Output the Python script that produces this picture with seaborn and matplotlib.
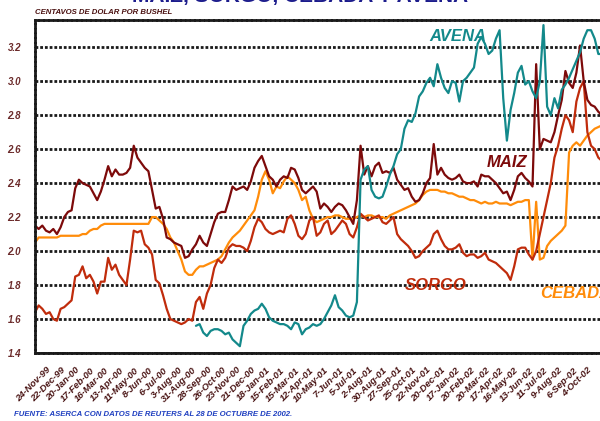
import numpy as np
import pandas as pd
import seaborn as sns
import matplotlib.pyplot as plt

# ==========================================================
# DATA  (one value per week, index 0 = early Nov-99)
# ==========================================================

maiz = [
    2.15, 2.13, 2.15, 2.12, 2.11, 2.13, 2.10, 2.14, 2.20, 2.23,
    2.24, 2.37, 2.42, 2.40, 2.39, 2.38, 2.34, 2.30, 2.35, 2.42,
    2.50, 2.44, 2.48, 2.45, 2.45, 2.46, 2.49, 2.62, 2.55, 2.52,
    2.49, 2.47, 2.36, 2.25, 2.26, 2.19, 2.08, 2.07, 2.05, 2.04,
    2.03, 1.96, 1.97, 2.01, 2.04, 2.09, 2.05, 2.03, 2.10, 2.17,
    2.22, 2.23, 2.23, 2.30, 2.38, 2.36, 2.37, 2.38, 2.36, 2.41,
    2.49, 2.53, 2.56, 2.50, 2.44, 2.42, 2.38, 2.42, 2.44, 2.43,
    2.49, 2.48, 2.43, 2.36, 2.34, 2.36, 2.38, 2.35, 2.25, 2.28,
    2.26, 2.23, 2.26, 2.28, 2.27, 2.24, 2.20, 2.16, 2.30, 2.62,
    2.45, 2.50, 2.44, 2.50, 2.52, 2.46, 2.47, 2.46, 2.49, 2.42,
    2.39, 2.36, 2.37, 2.32, 2.29, 2.30, 2.34, 2.40, 2.43, 2.63,
    2.45, 2.49, 2.45, 2.43, 2.42, 2.43, 2.45, 2.41, 2.40, 2.40,
    2.41, 2.38, 2.45, 2.44, 2.44, 2.42, 2.40, 2.37, 2.34, 2.35,
    2.30, 2.36, 2.44, 2.46, 2.43, 2.41, 2.38, 3.10, 2.60, 2.66,
    2.65, 2.64, 2.70, 2.80, 2.89, 3.06, 2.99, 2.96, 3.05, 3.21,
    3.00, 2.89, 2.86, 2.85, 2.82, 2.80,
]

sorgo = [
    1.64, 1.68, 1.66, 1.63, 1.64, 1.60, 1.59, 1.66, 1.67, 1.69,
    1.71, 1.85, 1.86, 1.91, 1.84, 1.86, 1.82, 1.75, 1.82, 1.82,
    1.96, 1.89, 1.92, 1.86, 1.83, 1.80, 1.95, 2.12, 2.11, 2.12,
    2.04, 2.02, 1.98, 1.83, 1.81, 1.74, 1.66, 1.60, 1.59, 1.58,
    1.57, 1.58, 1.60, 1.59, 1.70, 1.73, 1.66, 1.75, 1.80, 1.90,
    1.95, 1.93, 1.96, 2.02, 2.04, 2.03, 2.03, 2.02, 2.00, 2.06,
    2.14, 2.19, 2.17, 2.13, 2.11, 2.10, 2.11, 2.12, 2.11, 2.19,
    2.21, 2.16, 2.09, 2.07, 2.10, 2.18, 2.20, 2.09, 2.11, 2.16,
    2.18, 2.10, 2.12, 2.15, 2.18, 2.16, 2.10, 2.08, 2.14, 2.22,
    2.20, 2.18, 2.19, 2.20, 2.21, 2.17, 2.16, 2.18, 2.20, 2.10,
    2.07, 2.05, 2.03, 2.00, 1.96, 1.97, 2.00, 2.02, 2.04, 2.10,
    2.12, 2.07, 2.03, 2.01, 2.01, 2.02, 2.04, 1.99, 1.97, 1.98,
    1.98, 1.96, 1.97, 1.99, 1.95, 1.94, 1.93, 1.91, 1.89, 1.87,
    1.83, 1.91, 2.01, 2.02, 2.02, 1.98, 1.95, 2.00, 2.10, 2.20,
    2.30, 2.40, 2.55, 2.62, 2.72, 2.80, 2.77, 2.70, 2.88, 2.96,
    3.00, 2.70, 2.62, 2.60, 2.55, 2.53,
]

cebada = [
    2.05, 2.08, 2.08, 2.08, 2.08, 2.08, 2.08, 2.09, 2.09, 2.09,
    2.09, 2.09, 2.09, 2.10, 2.10, 2.12, 2.13, 2.13, 2.15, 2.16,
    2.16, 2.16, 2.16, 2.16, 2.16, 2.16, 2.16, 2.16, 2.16, 2.16,
    2.16, 2.16, 2.20, 2.20, 2.18, 2.16, 2.13, 2.08, 2.05, 2.00,
    1.95, 1.88, 1.86, 1.86, 1.89, 1.91, 1.91, 1.92, 1.93, 1.94,
    1.95, 1.97, 2.01, 2.05, 2.08, 2.10, 2.12, 2.15, 2.18, 2.21,
    2.24, 2.32, 2.42, 2.47, 2.42, 2.34, 2.38, 2.37, 2.41, 2.44,
    2.42, 2.40, 2.36, 2.30, 2.32, 2.24, 2.19, 2.17, 2.18, 2.19,
    2.20, 2.20, 2.21, 2.21, 2.20, 2.19, 2.19, 2.19, 2.20, 2.21,
    2.20, 2.21, 2.21, 2.20, 2.20, 2.20, 2.19, 2.21, 2.22, 2.23,
    2.24, 2.25, 2.26, 2.27, 2.28, 2.30, 2.33, 2.35, 2.36, 2.36,
    2.36, 2.35, 2.35, 2.34, 2.34, 2.33, 2.32, 2.32, 2.31, 2.30,
    2.30, 2.29, 2.28, 2.29, 2.28, 2.28, 2.29, 2.28, 2.28, 2.28,
    2.27, 2.28, 2.29, 2.29, 2.30, 2.30, 1.95, 2.29, 1.95, 1.96,
    2.03, 2.06, 2.08, 2.10, 2.12, 2.15, 2.58, 2.62, 2.64, 2.62,
    2.65, 2.68, 2.70, 2.72, 2.73, 2.74,
]

AVENA_START = 44
avena = [
    1.56, 1.57, 1.52, 1.50, 1.53, 1.54,
    1.54, 1.53, 1.51, 1.52, 1.48, 1.46, 1.44, 1.56, 1.59, 1.63,
    1.65, 1.66, 1.69, 1.66, 1.61, 1.59, 1.58, 1.57, 1.57, 1.56,
    1.54, 1.58, 1.57, 1.51, 1.54, 1.55, 1.57, 1.56, 1.57, 1.60,
    1.64, 1.68, 1.74, 1.67, 1.65, 1.62, 1.61, 1.62, 1.70, 2.42,
    2.48, 2.50, 2.36, 2.32, 2.31, 2.32, 2.38, 2.45, 2.50, 2.57,
    2.60, 2.72, 2.77, 2.76, 2.81, 2.91, 2.94, 2.99, 3.02, 2.97,
    3.10, 3.02, 2.96, 2.93, 3.00, 2.99, 2.88, 3.00, 3.02, 3.05,
    3.08, 3.22, 3.26, 3.22, 3.16, 3.18, 3.25, 3.30, 2.90, 2.65,
    2.83, 2.93, 3.05, 3.09, 2.98, 3.00, 2.94, 2.90, 3.00, 3.33,
    2.85, 2.80, 2.90, 2.84, 2.95, 2.98, 3.02, 3.07, 3.12, 3.17,
    3.25, 3.30, 3.30, 3.25, 3.16, 3.16,
]

fechas = [
    "24-Nov-99", "22-Dec-99", "20-Jan-00", "17-Feb-00", "16-Mar-00",
    "13-Apr-00", "11-May-00", "8-Jun-00", "6-Jul-00", "3-Aug-00",
    "31-Aug-00", "28-Sep-00", "26-Oct-00", "23-Nov-00", "21-Dec-00",
    "18-Jan-01", "15-Feb-01", "15-Mar-01", "12-Apr-01", "10-May-01",
    "7-Jun-01", "5-Jul-01", "2-Aug-01", "30-Aug-01", "27-Sep-01",
    "25-Oct-01", "22-Nov-01", "20-Dec-01", "17-Jan-02", "20-Feb-02",
    "20-Mar-02", "17-Apr-02", "16-May-02", "13-Jun-02", "11-Jul-02",
    "9-Aug-02", "6-Sep-02", "4-Oct-02",
]

colores = {
    "CEBADA": "#ff8c0a",
    "SORGO": "#c02c0c",
    "MAIZ": "#7d0a0a",
    "AVENA": "#13898b",
}

# ==========================================================
# LONG TABLE
# ==========================================================

rows = []
for grano, vals, start in [("CEBADA", cebada, 0), ("SORGO", sorgo, 0),
                           ("MAIZ", maiz, 0), ("AVENA", avena, AVENA_START)]:
    for k, v in enumerate(vals):
        rows.append({"semana": start + k, "precio": v, "grano": grano})
df = pd.DataFrame(rows)

# ==========================================================
# PLOT
# ==========================================================

sns.set_style("white")
plt.rcParams["font.family"] = ["Liberation Sans", "DejaVu Sans"]

fig = plt.figure(figsize=(6, 4.21), dpi=100)
ax = fig.add_axes([35 / 600, 68 / 421, 567 / 600, 333 / 421])

sns.lineplot(data=df, x="semana", y="precio", hue="grano",
             hue_order=list(colores), palette=colores,
             estimator=None, sort=False, linewidth=1.6, legend=False, ax=ax)

ax.set_xlim(0, 155)
ax.set_ylim(1.4, 3.36)
ax.set_xlabel("")
ax.set_ylabel("")

dots = (0, (1, 0.7))
ax.set_yticks(np.round(np.arange(1.4, 3.21, 0.2), 1))
ax.set_yticklabels([f"{v:.1f}" for v in ax.get_yticks()],
                   fontsize=7, fontstyle="italic", fontweight="bold", color="#6b2a2a")
ax.yaxis.grid(True, color="#1a1a1a", linestyle=dots, linewidth=2)
ax.xaxis.grid(False)

ax.set_xticks(range(3, 3 + 4 * len(fechas), 4))
ax.set_xticklabels(fechas, rotation=45, ha="right", rotation_mode="anchor",
                   fontsize=6.8, fontstyle="italic", fontweight="bold", color="#4a1515",
                   fontstretch="condensed")
ax.tick_params(axis="both", length=0)
ax.tick_params(axis="y", pad=10)
ax.tick_params(axis="x", pad=9)

for side in ["left", "top", "bottom"]:
    ax.spines[side].set_linestyle(dots)
    ax.spines[side].set_linewidth(2)
    ax.spines[side].set_color("#1a1a1a")
ax.spines["right"].set_visible(False)

# series names
lab = dict(fontsize=12, fontstyle="italic", fontweight="bold", va="center", ha="left")
ax.text(107.9, 3.26, "AVENA", color=colores["AVENA"], **lab)
ax.text(123.5, 2.52, "MAIZ", color=colores["MAIZ"], **lab)
ax.text(101.1, 1.80, "SORGO", color=colores["SORGO"], **lab)
ax.text(138.0, 1.75, "CEBADA", color=colores["CEBADA"], clip_on=False, **lab)

fig.text(0.5, 1 - 2 / 421, "MAIZ, SORGO, CEBADA Y AVENA", ha="center", va="baseline",
         fontsize=15, fontweight="bold", color="#1c1c8c")
fig.text(35 / 600, 1 - 13 / 421, "CENTAVOS DE DOLAR POR BUSHEL", ha="left", va="center",
         fontsize=5.6, fontstyle="italic", fontweight="bold", color="#4a1010")
fig.text(14 / 600, 1 - 415 / 421, "FUENTE: ASERCA CON DATOS DE REUTERS AL 28 DE OCTUBRE DE 2002.",
         ha="left", va="center", fontsize=5.6, fontstyle="italic", fontweight="bold",
         color="#1f3fc0")

fig.savefig("out.png", dpi=100)
